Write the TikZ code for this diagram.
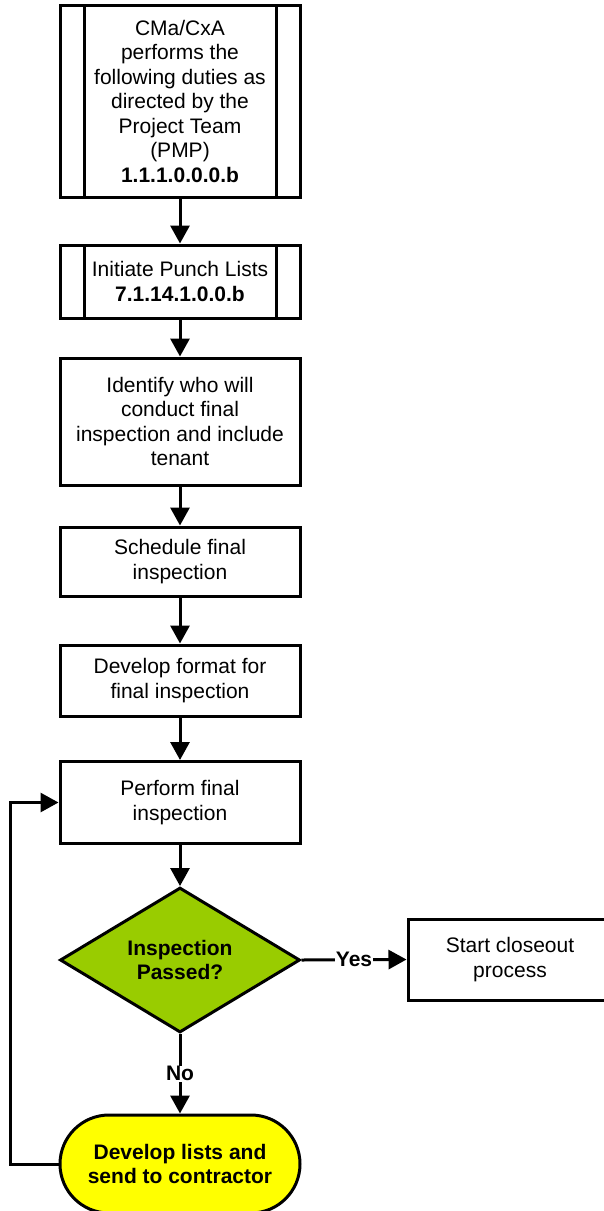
\documentclass[tikz,border=0pt]{standalone}
\usepackage{fontspec}
\setmainfont{Liberation Sans}
\usepackage{xcolor}
\usepackage{tikz}
\usetikzlibrary{arrows.meta,shapes.geometric,shapes.misc}
\definecolor{passgreen}{HTML}{99CC00}
\definecolor{listyellow}{HTML}{FFFF00}

\begin{document}
\begin{tikzpicture}[x=1pt,y=-1pt,font=\fontsize{21}{24.5}\selectfont,
    line width=3pt,
    box/.style={draw,fill=white,minimum width=240pt,inner sep=2pt,align=center},
    subproc/.style={box,path picture={
        \draw ([xshift=24pt]path picture bounding box.north west)
          -- ([xshift=24pt]path picture bounding box.south west)
          ([xshift=-24pt]path picture bounding box.north east)
          -- ([xshift=-24pt]path picture bounding box.south east);}},
    decide/.style={diamond,draw,fill=passgreen,minimum width=240pt,minimum height=144pt,
      inner sep=0pt,align=center,font=\fontsize{21}{24.5}\selectfont\bfseries},
    term/.style={rounded rectangle,draw,fill=listyellow,minimum width=240pt,
      minimum height=98pt,inner sep=0pt,align=center,font=\fontsize{21}{24.5}\selectfont\bfseries},
    flow/.style={-{Triangle[length=18pt,width=19pt]}},
    lbl/.style={fill=white,inner sep=0.5pt,font=\fontsize{21}{24.5}\selectfont\bfseries}]
    \useasboundingbox (0,0) rectangle (604,1211);

    \node[subproc,minimum height=192pt] (cma) at (180,101)
      {CMa/CxA\\performs the\\following duties as\\directed by the\\Project Team\\(PMP)\\\textbf{1.1.1.0.0.0.b}};
    \node[subproc,minimum height=73pt] (punch) at (180,281.5)
      {Initiate Punch Lists\\\textbf{7.1.14.1.0.0.b}};
    \node[box,minimum height=127pt] (who) at (180,421.5)
      {Identify who will\\conduct final\\inspection and include\\tenant};
    \node[box,minimum height=69pt] (sched) at (180,561.5) {Schedule final\\inspection};
    \node[box,minimum height=71pt] (format) at (180,680.5) {Develop format for\\final inspection};
    \node[box,minimum height=82pt] (perform) at (180,802.5) {Perform final\\inspection};
    \node[decide] (passed) at (180,960) {Inspection\\Passed?};
    \node[box,minimum width=204pt,minimum height=81pt] (closeout) at (510,959.5)
      {Start closeout\\process};
    \node[term] (lists) at (180,1164) {Develop lists and\\send to contractor};

    \draw[flow] (cma) -- (punch);
    \draw[flow] (punch) -- (who);
    \draw[flow] (who) -- (sched);
    \draw[flow] (sched) -- (format);
    \draw[flow] (format) -- (perform);
    \draw[flow] (perform) -- (passed);
    \draw[flow] (passed.east) -- node[lbl] {Yes} (closeout.west);
    \draw[flow] (passed.south) -- node[lbl] {No} (lists.north);
    \draw[flow] (lists.west) -- ++(-48,0) |- (perform.west);
  \end{tikzpicture}
\end{document}
